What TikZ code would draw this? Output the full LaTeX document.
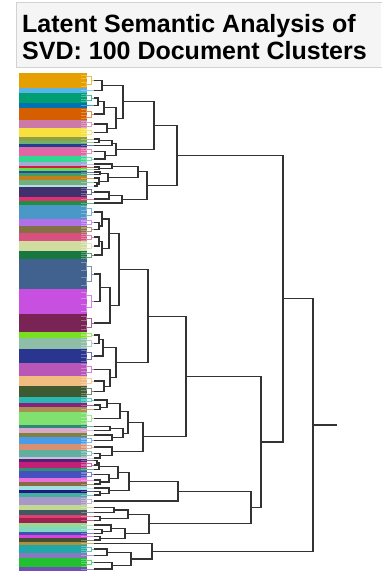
\documentclass[tikz,border=0pt]{standalone}
\usepackage{fontspec}
\setmainfont{Liberation Sans}
\usetikzlibrary{calc}
\newcommand\band[4]{%
  \definecolor{bc}{HTML}{#4}%
  \fill[bc] (19,#2) rectangle (87,#3);
  \coordinate (#1) at (95,{(#2+#3)/2});
  \begin{scope}[bc!70!white,line width=.7pt]
  \draw (81,{#2+0.125*(#3-#2)}) -| (86,{#2+0.375*(#3-#2)}) -- (81,{#2+0.375*(#3-#2)});
  \draw (81,{#2+0.625*(#3-#2)}) -| (86,{#2+0.875*(#3-#2)}) -- (81,{#2+0.875*(#3-#2)});
  \draw (86,{#2+0.25*(#3-#2)}) -| (91,{#2+0.75*(#3-#2)}) -- (86,{#2+0.75*(#3-#2)});
  \draw (91,{(#2+#3)/2}) -- (95,{(#2+#3)/2});
  \end{scope}}
\newcommand\bandt[4]{%
  \definecolor{bc}{HTML}{#4}%
  \fill[bc] (19,#2) rectangle (87,#3);
  \coordinate (#1) at (95,{(#2+#3)/2});
  \draw[bc!70!white,line width=.7pt] (81,{(#2+#3)/2}) -- (95,{(#2+#3)/2});}
\newcommand\mrg[4]{%
  \path let \p1=($(#3)!.5!(#4)$) in (#2pt,\y1) coordinate (#1);
  \draw[dtree] (#1) |- (#3) (#1) |- (#4);}
\begin{document}
\begin{tikzpicture}[x=1pt,y=-1pt,dtree/.style={line width=1.1pt,black!80,line cap=rect}]
\useasboundingbox (0,0) rectangle (381,572);
\fill[white] (0,0) rectangle (381,572);
% title
\fill[gray!8] (16,3) rectangle (381,68);
\draw[gray!35,line width=1pt] (385,3) -- (16,3) -- (16,68) -- (385,68);
\node[anchor=base west,inner sep=0,font=\bfseries\fontsize{25}{28}\selectfont] (t1) at (22,33) {Latent Semantic Analysis of};
\node[anchor=base west,inner sep=0,font=\bfseries\fontsize{25}{28}\selectfont] (t2) at (22,60) {SVD: 100 Document Clusters};
% bands
\band{b1}{73}{88}{E69F00}
\bandt{b2}{88}{93}{56B4E9}
\band{b3}{93}{103}{009E73}
\bandt{b4}{103}{108}{0072B2}
\band{b5}{108}{120}{D55E00}
\band{b6}{120}{128}{CC79A7}
\band{b7}{128}{137}{F8E040}
\bandt{b8}{137}{141}{8FA040}
\bandt{b9}{141}{144}{6FB070}
\bandt{b10}{144}{147}{1F3F8F}
\band{b11}{147}{156}{E066A6}
\band{b12}{156}{162}{30D890}
\bandt{b13}{162}{166}{A8A8D8}
\bandt{b14}{166}{168}{D02040}
\bandt{b15}{168}{171}{60E040}
\bandt{b16}{171}{173}{3040C0}
\bandt{b17}{173}{176}{40A060}
\bandt{b18}{176}{180}{C08020}
\bandt{b19}{180}{185}{70B080}
\bandt{b20}{185}{187}{B0E0E0}
\band{b21}{187}{197}{40306E}
\bandt{b22}{197}{201}{E03070}
\bandt{b23}{201}{205}{209040}
\band{b24}{205}{219}{4A98C8}
\band{b25}{219}{226}{B070E8}
\band{b26}{226}{233}{857046}
\band{b27}{233}{241}{D85080}
\band{b28}{241}{251}{D0DCA0}
\band{b29}{251}{259}{187840}
\band{b30}{259}{289}{41628F}
\band{b31}{289}{314}{C850E0}
\band{b32}{314}{332}{7A2455}
\band{b33}{332}{338}{78E020}
\band{b34}{338}{349}{8EBEA8}
\band{b35}{349}{363}{2A3590}
\band{b36}{363}{376}{B857B8}
\band{b37}{376}{386}{F0BC80}
\band{b38}{386}{397}{3E5A30}
\band{b39}{397}{403}{28B8B0}
\bandt{b40}{403}{407}{8A2080}
\bandt{b41}{407}{412}{A89050}
\band{b42}{412}{425}{80E070}
\bandt{b43}{425}{428}{308878}
\bandt{b44}{428}{433}{D8A8C8}
\bandt{b45}{433}{437}{808040}
\band{b46}{437}{444}{4A9CE8}
\band{b47}{444}{450}{D89070}
\band{b48}{450}{457}{60B0A0}
\bandt{b49}{457}{459}{C8C0E0}
\bandt{b50}{459}{462}{5A2070}
\band{b51}{462}{468}{C0207A}
\bandt{b52}{468}{471}{309070}
\band{b53}{471}{478}{4850C0}
\bandt{b54}{478}{482}{E870D8}
\bandt{b55}{482}{486}{8A6A40}
\bandt{b56}{486}{490}{A0E0E0}
\bandt{b57}{490}{493}{201880}
\bandt{b58}{493}{497}{40B0A0}
\band{b59}{497}{505}{A898C8}
\bandt{b60}{505}{510}{C0D890}
\bandt{b61}{510}{515}{405860}
\bandt{b62}{515}{518}{E04070}
\bandt{b63}{518}{523}{A02050}
\bandt{b64}{523}{527}{98D890}
\bandt{b65}{527}{532}{80D8C0}
\bandt{b66}{532}{535}{4050B0}
\bandt{b67}{535}{538}{E040E0}
\bandt{b68}{538}{542}{405030}
\bandt{b69}{542}{545}{B09040}
\band{b70}{545}{553}{20A8A8}
\bandt{b71}{553}{558}{8878C0}
\band{b72}{558}{567}{20C030}
\bandt{b73}{567}{571}{7050B0}
% tree
\mrg{D}{102}{b1}{b2}
\mrg{F0}{98}{b3}{b4}
\mrg{F}{104}{F0}{b5}
\mrg{G}{107}{b6}{b7}
\mrg{E}{116}{F}{G}
\mrg{C}{123}{D}{E}
\mrg{H1a}{99}{b8}{b9}
\mrg{H1}{112}{H1a}{b10}
\mrg{H2}{105}{b11}{b12}
\mrg{H}{116}{H1}{H2}
\mrg{B}{154}{C}{H}
\mrg{J1a}{99}{b14}{b15}
\mrg{J1}{112}{b13}{J1a}
\mrg{J2a}{100}{b16}{b17}
\mrg{J2b0}{97}{b19}{b20}
\mrg{J2b}{99}{b18}{J2b0}
\mrg{J2}{108}{J2a}{J2b}
\mrg{J}{138}{J1}{J2}
\mrg{K1}{109}{b21}{b22}
\mrg{K}{122}{K1}{b23}
\mrg{I}{147}{J}{K}
\mrg{A}{177}{B}{I}
\mrg{Z1a}{99}{b25}{b26}
\mrg{Z1}{102}{b24}{Z1a}
\mrg{Z2a}{99}{b27}{b28}
\mrg{Z2}{102}{Z2a}{b29}
\mrg{Z}{109}{Z1}{Z2}
\mrg{Y3}{100}{b30}{b31}
\mrg{Y2}{110}{Y3}{b32}
\mrg{Y}{119}{Z}{Y2}
\mrg{X1a}{99}{b33}{b34}
\mrg{X1}{103}{X1a}{b35}
\mrg{X3}{104}{b37}{b38}
\mrg{X2}{110}{b36}{X3}
\mrg{X}{116}{X1}{X2}
\mrg{L}{148}{Y}{X}
\mrg{W1b}{100}{b40}{b41}
\mrg{W1a}{107}{b39}{W1b}
\mrg{W1}{120}{W1a}{b42}
\mrg{W2a}{110}{b43}{b44}
\mrg{W2b}{112}{b45}{b46}
\mrg{W2}{123}{W2a}{W2b}
\mrg{W}{128}{W1}{W2}
\mrg{V2a}{100}{b48}{b49}
\mrg{V2}{112}{b47}{V2a}
\mrg{V}{143}{W}{V2}
\mrg{M}{186}{L}{V}
\mrg{T1c}{97}{b50}{b51}
\mrg{T1a}{99}{T1c}{b52}
\mrg{T1d}{100}{b54}{b55}
\mrg{T1b}{109}{b53}{T1d}
\mrg{T1}{118}{T1a}{T1b}
\mrg{T2a}{100}{b57}{b58}
\mrg{T2}{109}{b56}{T2a}
\mrg{T}{129}{T1}{T2}
\mrg{S}{178}{T}{b59}
\mrg{U1a}{114}{b60}{b61}
\mrg{U1b}{100}{b62}{b63}
\mrg{U1}{128}{U1a}{U1b}
\mrg{U2c}{102}{b65}{b66}
\mrg{U2a}{111}{b64}{U2c}
\mrg{U2b}{100}{b67}{b68}
\mrg{U2}{125}{U2a}{U2b}
\mrg{U}{149}{U1}{U2}
\mrg{R}{251}{S}{U}
\mrg{N}{261}{M}{R}
\mrg{P}{283}{A}{N}
\mrg{Q4}{107}{b70}{b71}
\mrg{Q3}{112}{b72}{b73}
\mrg{Q2}{131}{Q4}{Q3}
\mrg{Q}{152}{b69}{Q2}
\mrg{root}{313}{P}{Q}
\coordinate (stub) at ($(root)+(23,0)$);
\draw[dtree] (root) -- (stub);
\end{tikzpicture}
\end{document}
